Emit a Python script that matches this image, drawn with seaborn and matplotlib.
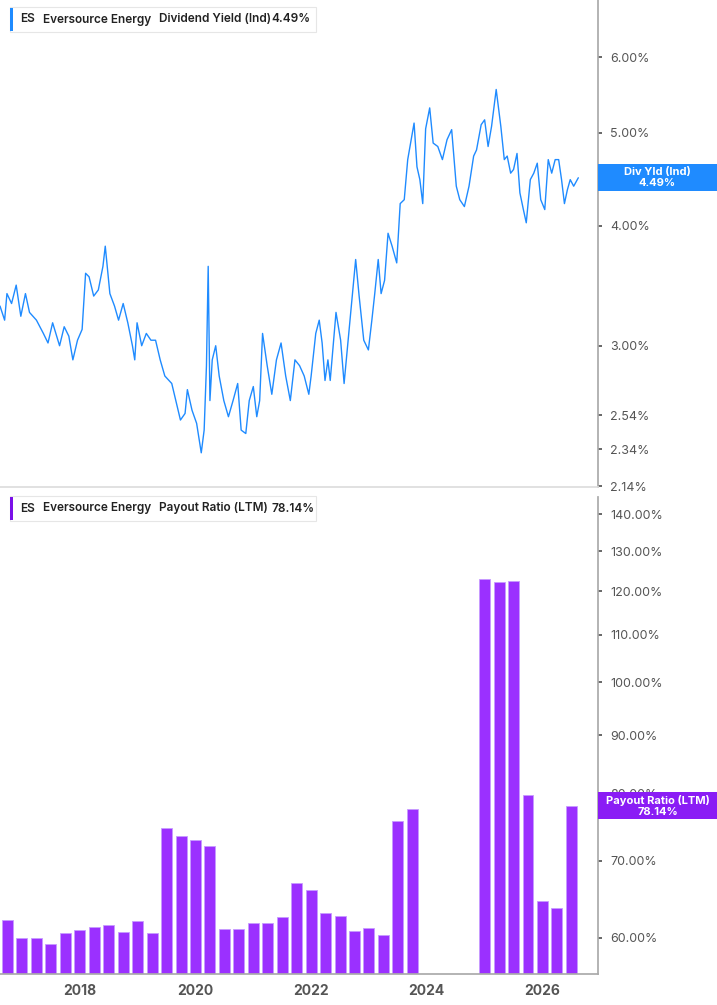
import numpy as np
import pandas as pd
import seaborn as sns
import matplotlib.pyplot as plt
from matplotlib.ticker import FixedLocator, NullLocator, FixedFormatter
from matplotlib.patches import Rectangle

# dividend yield (%), roughly monthly
yld_years = [2016.62, 2016.70, 2016.74, 2016.82, 2016.90, 2016.98, 2017.06, 2017.13, 2017.25,
             2017.37, 2017.45, 2017.53, 2017.65, 2017.73, 2017.81, 2017.88, 2017.96, 2018.04,
             2018.10, 2018.16, 2018.24, 2018.32, 2018.40, 2018.44, 2018.52, 2018.60, 2018.67,
             2018.75, 2018.83, 2018.91, 2018.95, 2018.99, 2019.07, 2019.15, 2019.23, 2019.31,
             2019.39, 2019.47, 2019.59, 2019.66, 2019.74, 2019.82, 2019.86, 2019.94, 2020.02,
             2020.10, 2020.15, 2020.19, 2020.22, 2020.25, 2020.29, 2020.35, 2020.41, 2020.49,
             2020.57, 2020.65, 2020.73, 2020.79, 2020.87, 2020.93, 2021.00, 2021.06, 2021.11,
             2021.16, 2021.24, 2021.32, 2021.40, 2021.48, 2021.56, 2021.64, 2021.72, 2021.80,
             2021.88, 2021.96, 2022.00, 2022.08, 2022.14, 2022.19, 2022.24, 2022.29, 2022.33,
             2022.43, 2022.51, 2022.57, 2022.77, 2022.83, 2022.91, 2022.99, 2023.05, 2023.10,
             2023.16, 2023.21, 2023.27, 2023.33, 2023.40, 2023.48, 2023.54, 2023.61, 2023.67,
             2023.74, 2023.78, 2023.83, 2023.88, 2023.93, 2023.98, 2024.05, 2024.11, 2024.19,
             2024.27, 2024.35, 2024.43, 2024.51, 2024.57, 2024.65, 2024.73, 2024.81, 2024.86,
             2024.94, 2025.00, 2025.06, 2025.12, 2025.20, 2025.28, 2025.34, 2025.39, 2025.45,
             2025.50, 2025.56, 2025.61, 2025.67, 2025.72, 2025.79, 2025.85, 2025.91, 2025.97,
             2026.04, 2026.10, 2026.16, 2026.22, 2026.28, 2026.33, 2026.38, 2026.43, 2026.48,
             2026.54, 2026.62]
yld_vals = [3.30, 3.19, 3.40, 3.32, 3.47, 3.22, 3.40, 3.25, 3.19,
            3.09, 3.02, 3.17, 3.00, 3.14, 3.07, 2.90, 3.04, 3.12,
            3.57, 3.54, 3.38, 3.43, 3.63, 3.81, 3.40, 3.30, 3.19,
            3.32, 3.17, 3.00, 2.90, 3.17, 3.00, 3.09, 3.04, 3.04,
            2.90, 2.79, 2.74, 2.63, 2.51, 2.55, 2.70, 2.57, 2.49,
            2.32, 2.45, 2.86, 3.63, 2.63, 2.90, 3.00, 2.79, 2.63,
            2.53, 2.63, 2.74, 2.45, 2.43, 2.63, 2.72, 2.53, 2.63,
            3.09, 2.86, 2.67, 2.90, 3.02, 2.79, 2.63, 2.90, 2.86,
            2.79, 2.67, 2.79, 3.09, 3.19, 3.02, 2.76, 2.90, 2.76,
            3.25, 3.04, 2.74, 3.69, 3.38, 3.04, 2.97, 3.19, 3.40,
            3.69, 3.40, 3.51, 3.93, 3.81, 3.66, 4.22, 4.26, 4.69,
            4.96, 5.12, 4.61, 4.47, 4.22, 5.05, 5.31, 4.88, 4.84,
            4.69, 4.92, 5.04, 4.40, 4.26, 4.19, 4.40, 4.73, 4.80,
            5.10, 5.16, 4.84, 5.08, 5.55, 5.08, 4.69, 4.73, 4.54,
            4.58, 4.76, 4.33, 4.16, 4.03, 4.47, 4.54, 4.65, 4.26,
            4.16, 4.69, 4.54, 4.69, 4.69, 4.47, 4.22, 4.36, 4.47,
            4.40, 4.49]

# payout ratio (LTM, %), quarterly
pay_quarters = [2016.75 + 0.25 * i for i in range(29)] + [2025.0, 2025.25, 2025.5, 2025.75,
                                                          2026.0, 2026.25, 2026.5]
pay_vals = [62.1, 59.9, 59.9, 59.2, 60.5, 60.9, 61.3, 61.5, 60.7, 62.0, 60.6, 74.7, 73.6,
            72.9, 72.1, 61.1, 61.1, 61.8, 61.8, 62.5, 66.9, 66.0, 63.0, 62.7, 60.8, 61.2,
            60.3, 75.8, 77.6, 123.1, 122.2, 122.4, 79.8, 64.6, 63.6, 78.14]

yld_ticks = [2.14, 2.34, 2.54, 3.0, 4.0, 5.0, 6.0]
pay_ticks = [60, 70, 80, 90, 100, 110, 120, 130, 140]
year_ticks = [2018, 2020, 2022, 2024, 2026]

BLUE = "#1f8bff"
PURPLE = "#9b30ff"
LABEL_PURPLE = "#8a1cf5"
GREY = "#555555"
W, H = 717, 1005

sns.set_theme(style="white")
plt.rcParams["font.family"] = ["Inter", "DejaVu Sans"]

fig = plt.figure(figsize=(W / 100, H / 100), dpi=100)
ax1 = fig.add_axes([0.0, 0.515, 0.834, 0.485])
ax2 = fig.add_axes([0.0, 0.031, 0.834, 0.474])

yld_df = pd.DataFrame({"year": yld_years, "yield": yld_vals})
pay_df = pd.DataFrame({"year": pay_quarters, "payout": pay_vals})

sns.lineplot(data=yld_df, x="year", y="yield", ax=ax1, color=BLUE, linewidth=1.0)
sns.barplot(data=pay_df, x="year", y="payout", ax=ax2, native_scale=True, width=0.76,
            color=PURPLE, saturation=1, edgecolor="#c79bff", linewidth=0.6)

xlim = (2016.62, 2026.96)
for ax in (ax1, ax2):
    ax.set_xlim(*xlim)
    ax.set_yscale("log")
    ax.set_xlabel("")
    ax.set_ylabel("")
    ax.yaxis.tick_right()
    ax.yaxis.set_minor_locator(NullLocator())
    for s in ("left", "top"):
        ax.spines[s].set_visible(False)
    ax.spines["right"].set_color("#aaaaaa")
    ax.spines["bottom"].set_color("#aaaaaa")
    ax.tick_params(axis="y", length=3, color=GREY, labelcolor=GREY, labelsize=9, pad=6)

ax1.set_ylim(2.135, 6.88)
ax1.yaxis.set_major_locator(FixedLocator(yld_ticks))
ax1.yaxis.set_major_formatter(FixedFormatter(["%.2f%%" % t for t in yld_ticks]))
ax1.set_xticks([])
ax1.spines["bottom"].set_color("#dddddd")

ax2.set_ylim(55.8, 144.8)
ax2.yaxis.set_major_locator(FixedLocator(pay_ticks))
ax2.yaxis.set_major_formatter(FixedFormatter(["%.2f%%" % t for t in pay_ticks]))
ax2.set_xticks(year_ticks)
ax2.set_xticklabels([str(y) for y in year_ticks], fontweight="bold")
ax2.tick_params(axis="x", length=4, color=GREY, labelcolor=GREY, labelsize=10)


# legend boxes, top-left of each panel (positions in figure pixels from top-left)
def legend_box(top, color, text, value):
    fx = lambda px: px / W
    fy = lambda py: 1 - py / H
    fig.add_artist(Rectangle((fx(10), fy(top + 25)), fx(306), 25 / H, transform=fig.transFigure,
                             facecolor="white", edgecolor="#e6e6e6", lw=0.8, zorder=5))
    fig.add_artist(Rectangle((fx(10), fy(top + 24)), fx(3), 23 / H, transform=fig.transFigure,
                             facecolor=color, edgecolor="none", zorder=6))
    mid = fy(top + 12.5)
    kw = dict(fontsize=8.5, color="#222222", va="center", zorder=7, fontweight="semibold")
    fig.text(fx(20), mid, "ES", **kw)
    fig.text(fx(43), mid, "Eversource Energy", **kw)
    fig.text(fx(159), mid, text, **kw)
    fig.text(fx(271), mid, value, **kw)

legend_box(7, BLUE, "Dividend Yield (Ind)", "4.49%")
legend_box(496, "#7a10e8", "Payout Ratio (LTM)", "78.14%")


# last value tags on the right axis
def value_tag(ax, y, color, label):
    fig.canvas.draw()
    py = ax.transData.transform((0, y))[1]
    fig.add_artist(Rectangle((598 / W, (py - 13.5) / H), 119 / W, 27 / H,
                             transform=fig.transFigure, facecolor=color, edgecolor="none",
                             zorder=8))
    fig.text(657.5 / W, py / H, label, ha="center", va="center", fontsize=8,
             fontweight="bold", color="white", linespacing=1.1, zorder=9)

value_tag(ax1, 4.49, BLUE, "Div Yld (Ind)\n4.49%")
value_tag(ax2, 78.14, LABEL_PURPLE, "Payout Ratio (LTM)\n78.14%")

fig.savefig("out.png", dpi=100)
